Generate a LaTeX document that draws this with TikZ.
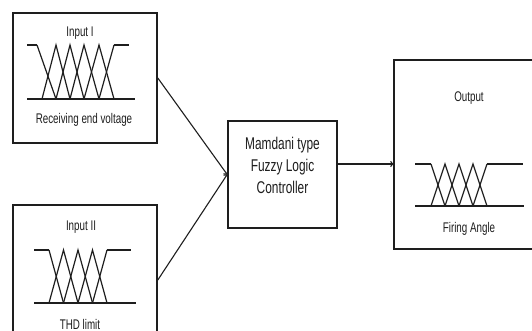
\documentclass[tikz,border=0pt]{standalone}
\usepackage{fontspec}
\newfontfamily\lblfont[FakeStretch=0.70]{Liberation Sans}
\usetikzlibrary{arrows.meta}
\definecolor{ink}{HTML}{1E1E1E}
\begin{document}
\begin{tikzpicture}[x=1pt,y=-1pt,
  box/.style={draw=ink,line width=1.6pt,minimum width=#1,inner sep=0pt},
  mfline/.style={draw=ink,line width=1.2pt,line join=miter},
  axisline/.style={draw=ink,line width=1.7pt},
  lbl/.style={font=\lblfont\fontsize{14}{16}\selectfont,text=ink,inner sep=0pt},
  bigl/.style={font=\lblfont\fontsize{17}{22}\selectfont,text=ink,align=center,inner sep=0pt},
  conn/.style={draw=ink,line width=1.1pt,-{To[length=3pt,width=6pt]}}]
\useasboundingbox (0,0) rectangle (532,331);
\fill[white] (0,0) rectangle (532,331);
\clip (0,0) rectangle (532,331);
% boxes
\node[box=144pt,minimum height=130pt] (b1) at (85,78) {};
\node[box=144pt,minimum height=150pt] (b2) at (85,280) {};
\node[box=150pt,minimum height=189pt] (out) at (469,154.5) {};
\node[box=109pt,minimum height=107pt] (fl) at (282.5,174.5) {};
% labels
\node[lbl] (t1) at (80,33) {Input I};
\node[lbl] (t2) at (84,120) {Receiving end voltage};
\node[lbl] (t3) at (81,227) {Input II};
\node[lbl] (t4) at (80,324) {THD limit};
\node[lbl] (t5) at (469,98) {Output};
\node[lbl] (t6) at (469,229) {Firing Angle};
\node[bigl] (t7) at (282.5,165) {Mamdani type\\Fuzzy Logic\\Controller};
% membership functions, input I
\draw[axisline] (27,45) -- (37,45);
\draw[axisline] (114,45) -- (129,45);
\draw[axisline] (27,99) -- (135,99);
\draw[mfline] (37,45) -- (56,99);
\draw[mfline] (42,99) -- (56,45) -- (70,99);
\draw[mfline] (56,99) -- (70,45) -- (84,99);
\draw[mfline] (70,99) -- (84,45) -- (99,99);
\draw[mfline] (84,99) -- (99,45) -- (114,99);
\draw[mfline] (99,99) -- (114,45);
% input II
\draw[axisline] (34,250) -- (49,250);
\draw[axisline] (107,250) -- (131,250);
\draw[axisline] (34,303) -- (136,303);
\draw[mfline] (49,250) -- (63.5,303);
\draw[mfline] (49,303) -- (63.5,250) -- (78,303);
\draw[mfline] (63.5,303) -- (78,250) -- (92.5,303);
\draw[mfline] (78,303) -- (92.5,250) -- (107,303);
\draw[mfline] (92.5,303) -- (107,250);
% output
\draw[axisline] (415,164) -- (431,164);
\draw[axisline] (487,164) -- (523,164);
\draw[axisline] (415,206) -- (524,206);
\draw[mfline] (431,164) -- (445,206);
\draw[mfline] (431,206) -- (445,164) -- (459,206);
\draw[mfline] (445,206) -- (459,164) -- (473,206);
\draw[mfline] (459,206) -- (473,164) -- (487,206);
\draw[mfline] (473,206) -- (487,164);
% connectors
\coordinate (lvl) at (0,164);
\draw[conn] (b1.east) -- (fl.west);
\draw[conn] (b2.east) -- (fl.west);
\draw[conn] (fl.east |- lvl) -- (out.west |- lvl);
\end{tikzpicture}
\end{document}
